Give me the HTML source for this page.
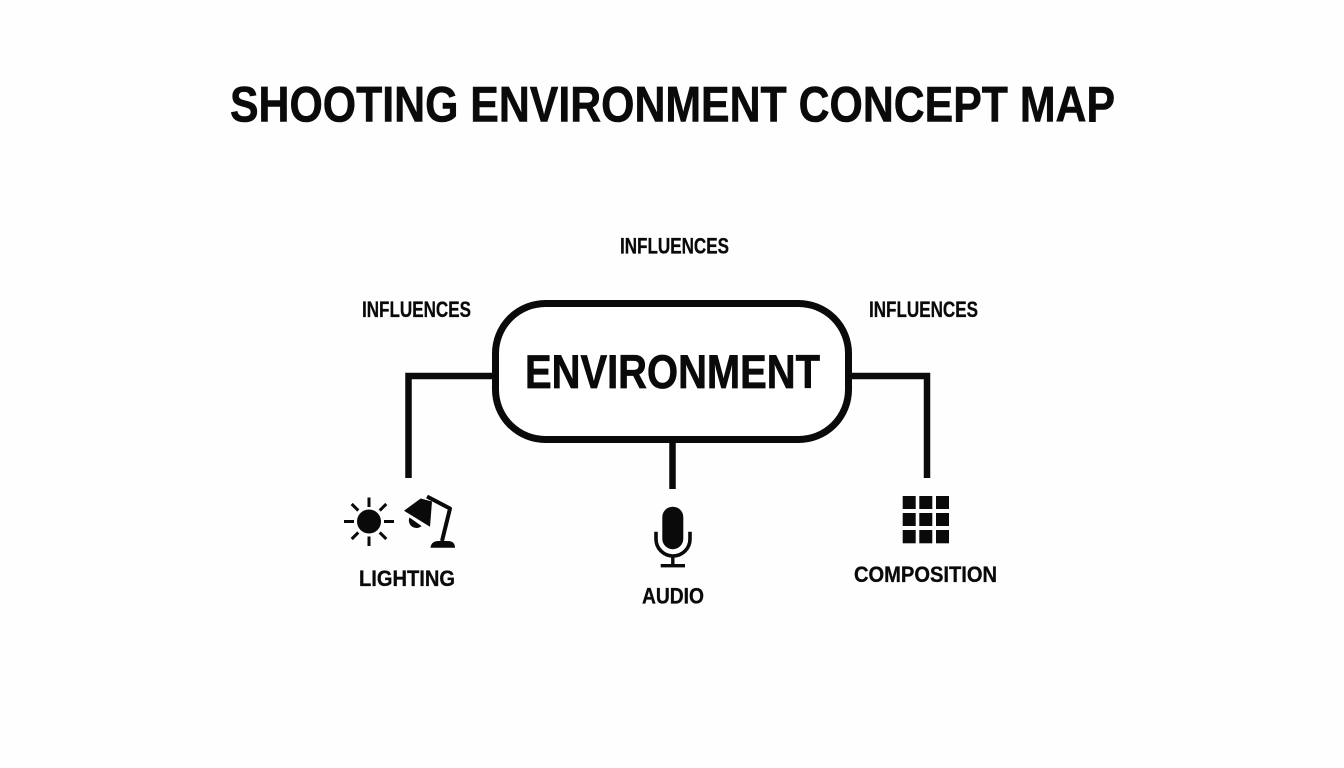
<!DOCTYPE html>
<html lang="en">
<head>
<meta charset="utf-8">
<title>Shooting Environment Concept Map</title>
<style>
html,body{margin:0;padding:0;background:#fff;width:1344px;height:768px;overflow:hidden}
svg{display:block}
text{font-family:"Liberation Sans",sans-serif;font-weight:700;fill:#0a0a0a}
</style>
</head>
<body>
<svg width="1344" height="768" viewBox="0 0 1344 768" xmlns="http://www.w3.org/2000/svg">
<rect width="1344" height="768" fill="#fefefe"/>
<text x="230" y="121.5" font-size="50" textLength="885" lengthAdjust="spacingAndGlyphs" stroke="#0a0a0a" stroke-width=".6">SHOOTING ENVIRONMENT CONCEPT MAP</text>
<text x="620" y="253.5" font-size="22" textLength="109" lengthAdjust="spacingAndGlyphs" stroke="#0a0a0a" stroke-width=".3">INFLUENCES</text>
<text x="362" y="317" font-size="22" textLength="109" lengthAdjust="spacingAndGlyphs" stroke="#0a0a0a" stroke-width=".3">INFLUENCES</text>
<text x="869" y="317" font-size="22" textLength="109" lengthAdjust="spacingAndGlyphs" stroke="#0a0a0a" stroke-width=".3">INFLUENCES</text>

<rect x="495.5" y="303.5" width="353" height="136" rx="50" ry="50" fill="#fff" stroke="#0a0a0a" stroke-width="7"/>
<text x="525" y="388" font-size="47" textLength="295" lengthAdjust="spacingAndGlyphs" stroke="#0a0a0a" stroke-width=".7">ENVIRONMENT</text>

<g fill="none" stroke="#0a0a0a" stroke-width="6.5">
<path d="M493 376H408.5V478" stroke-linejoin="miter"/>
<path d="M851 376H927V478" stroke-linejoin="miter"/>
<path d="M672.5 442V489"/>
</g>

<!-- Sun -->
<circle cx="369" cy="521.5" r="12" fill="#0a0a0a"/>
<g stroke="#0a0a0a" stroke-width="3" fill="none">
<path d="M369 497.5V507M369 536.5V546M344 521.5H354M384 521.5H394M351.7 504L358.3 510.5M386.3 504L379.7 510.5M351.7 539L358.3 532.5M386.3 539L379.7 532.5"/>
</g>
<!-- Lamp -->
<path d="M404 510.7L420.7 498.5L432 501.5L430 526.7Z" fill="#0a0a0a"/>
<path d="M409.5 517.5L421.5 526A7.5 7.5 0 0 1 409.5 517.5Z" fill="#0a0a0a"/>
<path d="M427 496.5L450 508.5L442 541" fill="none" stroke="#0a0a0a" stroke-width="4" stroke-linejoin="round"/>
<path d="M430.5 547.7C431 542.5 435 541 438 541H448C452 541 455 543 455 547.7Z" fill="#0a0a0a"/>

<!-- Mic -->
<rect x="662.3" y="506.7" width="21" height="42.5" rx="10.5" fill="#0a0a0a"/>
<path d="M656 531.7V539A17 17 0 0 0 690 539V531.7" fill="none" stroke="#0a0a0a" stroke-width="3.6"/>
<path d="M672.8 556V565" stroke="#0a0a0a" stroke-width="3.4"/>
<rect x="660.7" y="564" width="24.3" height="3.4" fill="#0a0a0a"/>

<!-- Grid -->
<g fill="#0a0a0a">
<rect x="902.7" y="496" width="13" height="13"/><rect x="919.3" y="496" width="13" height="13"/><rect x="936" y="496" width="13" height="13"/>
<rect x="902.7" y="513" width="13" height="13"/><rect x="919.3" y="513" width="13" height="13"/><rect x="936" y="513" width="13" height="13"/>
<rect x="902.7" y="530" width="13" height="13.3"/><rect x="919.3" y="530" width="13" height="13.3"/><rect x="936" y="530" width="13" height="13.3"/>
</g>

<text x="359" y="586" font-size="22" textLength="96" lengthAdjust="spacingAndGlyphs" stroke="#0a0a0a" stroke-width=".3">LIGHTING</text>
<text x="642" y="603.5" font-size="22" textLength="62" lengthAdjust="spacingAndGlyphs" stroke="#0a0a0a" stroke-width=".3">AUDIO</text>
<text x="854" y="582" font-size="22" textLength="143" lengthAdjust="spacingAndGlyphs" stroke="#0a0a0a" stroke-width=".3">COMPOSITION</text>
</svg>
</body>
</html>
